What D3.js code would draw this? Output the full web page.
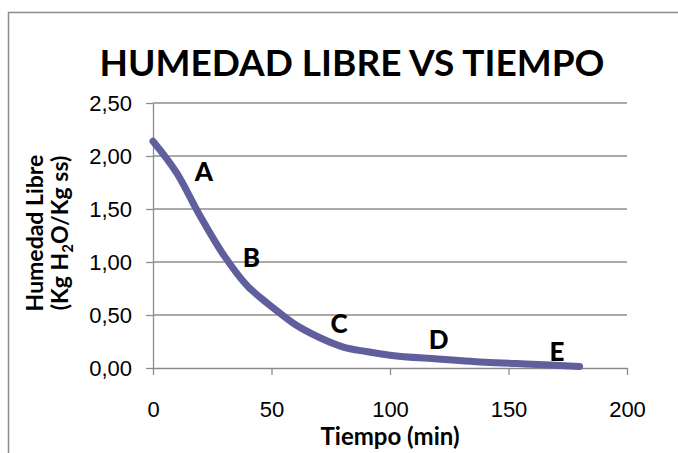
<!DOCTYPE html>
<meta charset="utf-8">
<style>
body { margin: 0; background: #fff; }
svg { font-family: Lato, "Open Sans", sans-serif; }
.grid line { stroke: #8c8c8c; stroke-width: 1.3; }
.axis path, .axis line { stroke: #8c8c8c; stroke-width: 1.3; }
.axis text { font-size: 22px; fill: #000; }
</style>
<svg width="678" height="453"></svg>
<script src="https://d3js.org/d3.v7.min.js"></script>
<script>

// datos
var tiempo  = [0, 10, 20, 30, 40, 45, 50, 60, 70, 80, 90, 100, 120, 140, 160, 180];
var humedad = [2.14, 1.84, 1.43, 1.06, 0.77, 0.67, 0.58, 0.41, 0.29, 0.20, 0.155, 0.12, 0.085, 0.055, 0.035, 0.015];
var xTicks = [0, 50, 100, 150, 200];
var yTicks = [0, 0.5, 1, 1.5, 2, 2.5];
var etiquetas = ["A", "B", "C", "D", "E"];
var etiqX = [21.5, 41.5, 78.5, 120.5, 170.5];
var etiqY = [1.76, 0.95, 0.33, 0.18, 0.07];

var svg = d3.select("svg"),
    margin = {top: 103, right: 51, bottom: 85, left: 153},
    width = +svg.attr("width") - margin.left - margin.right,
    height = +svg.attr("height") - margin.top - margin.bottom;

svg.append("rect")
    .attr("x", 8.5).attr("y", 12.5)
    .attr("width", 700).attr("height", 500)
    .attr("fill", "none")
    .attr("stroke", "#8c8c8c")
    .attr("stroke-width", 1.5);

var x = d3.scaleLinear().domain([0, 200]).range([0, width]),
    y = d3.scaleLinear().domain([0, 2.5]).range([height, 0]);

var g = svg.append("g")
    .attr("transform", "translate(" + margin.left + "," + margin.top + ")");

g.append("g")
    .attr("class", "grid")
    .selectAll("line")
    .data(yTicks.slice(1))
    .enter().append("line")
    .attr("x1", 0).attr("x2", width)
    .attr("y1", function(d) { return y(d); })
    .attr("y2", function(d) { return y(d); });

var fmt = function(d) { return d3.format(".2f")(d).replace(".", ","); };

g.append("g")
    .attr("class", "axis")
    .call(d3.axisLeft(y).tickValues(yTicks).tickFormat(fmt).tickSize(7).tickSizeOuter(0).tickPadding(14));

g.append("g")
    .attr("class", "axis")
    .attr("transform", "translate(0," + height + ")")
    .call(d3.axisBottom(x).tickValues(xTicks).tickSize(7).tickSizeOuter(0).tickPadding(26));

var line = d3.line()
    .x(function(d, i) { return x(tiempo[i]); })
    .y(function(d) { return y(d); })
    .curve(d3.curveMonotoneX);

g.append("path")
    .datum(humedad)
    .attr("d", line)
    .attr("fill", "none")
    .attr("stroke", "#5f5f9d")
    .attr("stroke-width", 7)
    .attr("stroke-linecap", "round");

g.selectAll(".lbl")
    .data(etiquetas)
    .enter().append("text")
    .attr("class", "lbl")
    .attr("x", function(d, i) { return x(etiqX[i]); })
    .attr("y", function(d, i) { return y(etiqY[i]); })
    .attr("text-anchor", "middle")
    .attr("font-weight", 900)
    .attr("font-size", "26px")
    .text(function(d) { return d; });

svg.append("text")
    .attr("x", 352).attr("y", 76)
    .attr("text-anchor", "middle")
    .attr("font-weight", "bold")
    .attr("font-size", "37px")
    .text("HUMEDAD LIBRE VS TIEMPO");

svg.append("text")
    .attr("x", margin.left + width / 2).attr("y", 445)
    .attr("text-anchor", "middle")
    .attr("font-weight", "bold")
    .attr("font-size", "24px")
    .text("Tiempo (min)");

var yl = svg.append("g")
    .attr("transform", "translate(43,233) rotate(-90)");
yl.append("text")
    .attr("text-anchor", "middle")
    .attr("font-weight", "bold")
    .attr("font-size", "23px")
    .text("Humedad Libre");
var t2 = yl.append("text")
    .attr("y", 25)
    .attr("text-anchor", "middle")
    .attr("font-weight", "bold")
    .attr("font-size", "23px");
t2.append("tspan").text("(Kg H");
t2.append("tspan").attr("font-size", "15px").attr("dy", 5).text("2");
t2.append("tspan").attr("dy", -5).text("O/Kg ss)");

</script>
